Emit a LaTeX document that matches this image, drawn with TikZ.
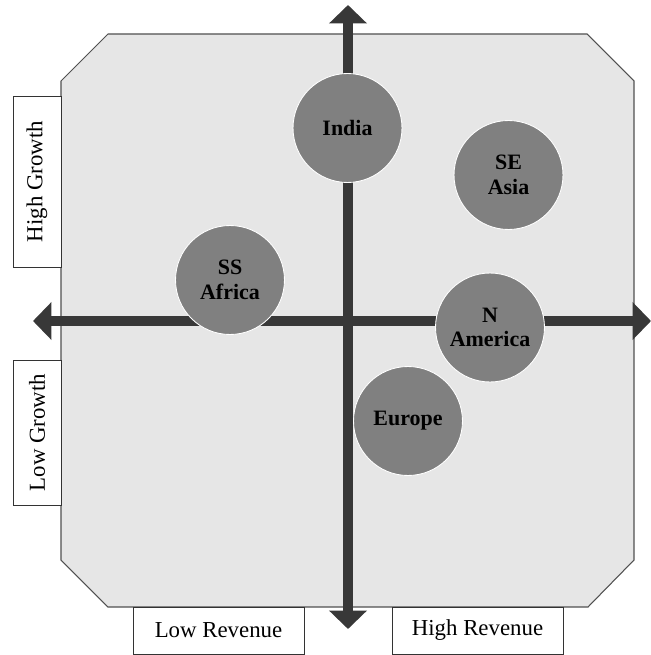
\documentclass[tikz,border=0pt]{standalone}
\usepackage{fontspec}
\setmainfont{Liberation Serif}
\usepackage{xcolor}
\usetikzlibrary{arrows.meta}

\definecolor{panelgray}{HTML}{E6E6E6}
\definecolor{edgegray}{HTML}{505050}
\definecolor{axisgray}{HTML}{383838}
\definecolor{bubblegray}{HTML}{808080}

\tikzset{
  region/.style={circle, fill=bubblegray, draw=white, line width=0.5pt,
    minimum size=2.18cm, inner sep=0pt, align=center,
    font=\fontsize{12.5}{14}\selectfont\bfseries},
  tag/.style={draw=black!80, fill=white, line width=0.5pt, inner sep=0pt,
    font=\fontsize{13}{15}\selectfont},
  axis/.style={axisgray, line width=0.19cm,
    {Triangle[width=0.74cm,length=0.37cm]}-{Triangle[width=0.74cm,length=0.37cm]}}
}

\begin{document}
\begin{tikzpicture}[x=0.02cm, y=-0.02cm]
            \useasboundingbox (0,0) rectangle (651,655);
            % Panel
            \filldraw[fill=panelgray, draw=edgegray, line width=0.6pt]
              (108,34) -- (587,34) -- (634,81) -- (634,560) -- (588,607)
              -- (108,607) -- (61,560) -- (61,81) -- cycle;

            % Axes
            \coordinate (top) at (348,5);
            \coordinate (bottom) at (348,629);
            \coordinate (left) at (33,321);
            \coordinate (right) at (651,321);
            \draw[axis] (left) -- (right);
            \draw[axis] (bottom) -- (top);

            % Regions
            \node[region] (india) at (347.5,128) {India};
            \node[region] (seasia) at (508.5,175) {SE\\Asia};
            \node[region] (ssafrica) at (230,280) {SS\\Africa};
            \node[region] (namerica) at (490,327.5) {N\\America};
            \node[region] (europe) at (408,421) {Europe};

            % Axis labels
            \node[tag, rotate=90, minimum width=3.42cm, minimum height=0.96cm] (highgrowth) at (37,181.5) {High Growth};
            \node[tag, rotate=90, minimum width=2.9cm, minimum height=0.96cm] (lowgrowth) at (37,432.5) {Low Growth};
            \node[tag, minimum width=3.42cm, minimum height=0.94cm] (lowrevenue) at (218.5,630.5) {Low Revenue};
            \node[tag, minimum width=3.42cm, minimum height=0.94cm] (highrevenue) at (477.5,630.5) {High Revenue};
        \end{tikzpicture}
\end{document}
